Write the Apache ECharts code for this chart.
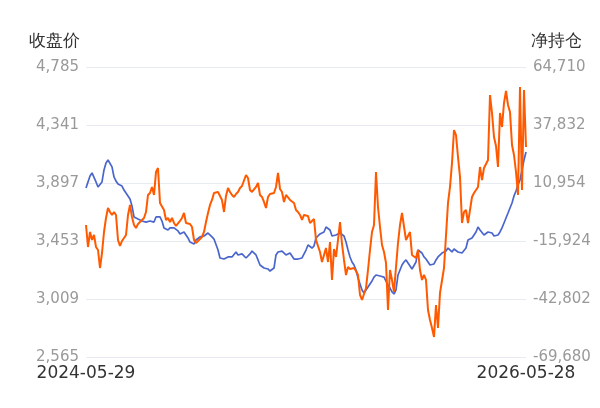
<!DOCTYPE html>
<html>
<head>
<meta charset="utf-8">
<script src="https://cdn.jsdelivr.net/npm/echarts@6/dist/echarts.min.js"></script>
<style>
  html, body { margin: 0; padding: 0; background: #fff; }
  #main { width: 600px; height: 408px; }
</style>
</head>
<body>
<div id="main"></div>
<script>
// first / last trading day shown on the x axis
const startDate = '2024-05-29';
const endDate = '2026-05-28';

// 收盘价 (left axis)
const closePrice = [
    3859, 3905, 3951, 3974, 3981, 3905, 3866, 3866, 3905, 3997,
    4050, 4073, 4081, 4020, 3943, 3912, 3889, 3882, 3874, 3843,
    3820, 3798, 3775, 3721, 3637, 3629, 3621, 3614, 3606, 3598,
    3598, 3598, 3606, 3606, 3598, 3637, 3644, 3637, 3606, 3553,
    3545, 3537, 3553, 3553, 3553, 3545, 3530, 3507, 3507, 3522,
    3499, 3476, 3445, 3438, 3430, 3461, 3476, 3484, 3484, 3491,
    3499, 3514, 3499, 3484, 3468, 3461, 3384, 3323, 3315, 3315,
    3323, 3331, 3331, 3331, 3338, 3369, 3346, 3338, 3354, 3346,
    3323, 3338, 3354, 3376, 3369, 3346, 3308, 3269, 3254, 3246,
    3246, 3239, 3223, 3216, 3246, 3346, 3369, 3384, 3376, 3361,
    3346, 3361, 3361, 3338, 3315, 3308, 3315, 3323, 3323, 3338,
    3384, 3422, 3407, 3399, 3415, 3476, 3491, 3507, 3514, 3522,
    3560, 3553, 3537, 3491, 3499, 3499, 3507, 3514, 3514, 3491,
    3445, 3384, 3331, 3292, 3269, 3231, 3170, 3124, 3078, 3055,
    3055, 3101, 3116, 3147, 3177, 3193, 3208, 3185, 3177, 3177,
    3162, 3116, 3093, 3063, 3047, 3078, 3193, 3231, 3269, 3292,
    3308, 3308, 3262, 3239, 3246, 3292, 3384, 3369, 3361, 3331,
    3315, 3292, 3269, 3254, 3277, 3308, 3331, 3346, 3361, 3369,
    3376, 3399, 3384, 3369, 3392, 3384, 3369, 3361, 3361, 3369,
    3399, 3461, 3468, 3476, 3491, 3522, 3560, 3537, 3522, 3499,
    3491, 3522, 3522, 3514, 3491, 3491, 3499, 3522, 3553, 3591,
    3629, 3667, 3706, 3744, 3798, 3836, 3882, 3920, 3997, 4073,
    4134
];

// 净持仓 (right axis)
const netPosition = [
    -8507, -18702, -11751, -15458, -13141, -18702, -20092, -28433, -21482, -11751,
    -5263, -629, -2483, -3873, -2483, -3873, -15458, -18238, -15921, -14531,
    -13141, -3873, 761, -4800, -8507, -9897, -8044, -7117, -6653, -5263,
    -2483, 5395, 6322, 9102, 5395, 16053, 17907, 1688, 1224, -1556,
    -6190, -5263, -7117, -5263, -7580, -8970, -8970, -6653, -5263, -2946,
    -7580, -8044, -8044, -9434, -15458, -16848, -15921, -15458, -14068, -11751,
    -7117, -2946, 761, 3078, 6322, 6785, 6785, 6322, 3078, -2483,
    4932, 8639, 6785, 5395, 4468, 5858, 6785, 8639, 9566, 10029,
    14663, 13273, 7712, 6785, 6785, 9102, 10956, 5395, 4468, 2151,
    -629, 4468, 5858, 4932, 6322, 9102, 15590, 8175, 6785, 2151,
    5395, 4932, 3078, 3078, 1688, -1556, -2483, -3873, -6190, -3873,
    -4336, -4336, -7580, -7580, -5727, -15458, -18238, -21019, -25653, -25653,
    -19165, -25653, -16385, -33994, -19629, -23336, -15458, -7117, -17312, -24726,
    -31677, -27970, -28897, -29360, -28433, -29823, -31677, -40945, -43262, -40482,
    -37701, -29360, -20092, -11751, -8507, 16053, -166, -9434, -17775, -21019,
    -26116, -47896, -29360, -33994, -39555, -27970, -16848, -8507, -2946, -2483,
    -15458, -13604, -11751, -22409, -22409, -23799, -20092, -29360, -33994, -31677,
    -33994, -47896, -52530, -56237, -60408, -45579, -56237, -40018, -39555, -28433,
    -28433, 1688, 9102, 20224, 35516, 33199, 23004, 13736, -7580, -2483,
    -1556, -7580, -1556, 4468, 6322, 6322, 9102, 18370, 12346, 17907,
    18370, 21614, 51735, 43394, 32272, 28102, 18370, 43394, 36906, 48028,
    53589, 47101, 43857, 28565, 23931, 16053, 5395, 55442, 7712, 54052,
    27638
];

// axis ranges as printed on the chart
const leftAxis = { min: 2565, max: 4785, interval: 444 };
const rightAxis = { min: -69680, max: 64710, interval: 26878 };

function makeDates(start, end, n) {
    let t0 = new Date(start + 'T00:00:00Z').getTime();
    let t1 = new Date(end + 'T00:00:00Z').getTime();
    let out = [];
    for (let i = 0; i < n; i++) {
        let d = new Date(t0 + Math.round((t1 - t0) / 86400000 * i / (n - 1)) * 86400000);
        out.push(d.toISOString().slice(0, 10));
    }
    return out;
}

const dates = makeDates(startDate, endDate, closePrice.length);

function fmt(v) {
    return Math.round(v).toLocaleString('en-US');
}

let myChart = echarts.init(document.getElementById('main'));
let option;

option = {
    animation: false,
    textStyle: { fontFamily: 'DejaVu Sans' },
    grid: { left: 86, right: 74, top: 67, bottom: 51 },
    xAxis: {
        type: 'category',
        data: dates,
        boundaryGap: false,
        axisLine: { show: false },
        axisTick: { show: false },
        axisLabel: {
            interval: dates.length - 2,
            color: '#333',
            fontFamily: 'DejaVu Sans',
            fontSize: 17,
            margin: 8
        }
    },
    yAxis: [
        {
            type: 'value',
            name: '收盘价',
            nameGap: 17,
            nameTextStyle: { color: '#333', fontSize: 17, padding: [0, 64, 0, 0] },
            min: leftAxis.min,
            max: leftAxis.max,
            interval: leftAxis.interval,
            axisLabel: { color: '#999', fontFamily: 'DejaVu Sans', fontSize: 15, margin: 7, formatter: fmt },
            splitLine: { lineStyle: { color: '#e8eaf1' } }
        },
        {
            type: 'value',
            name: '净持仓',
            nameGap: 17,
            nameTextStyle: { color: '#333', fontSize: 17, padding: [0, 0, 0, 60] },
            min: rightAxis.min,
            max: rightAxis.max,
            interval: rightAxis.interval,
            axisLabel: { color: '#999', fontFamily: 'DejaVu Sans', fontSize: 15, margin: 7, formatter: fmt },
            splitLine: { show: false }
        }
    ],
    series: [
        {
            name: '收盘价',
            type: 'line',
            data: closePrice,
            yAxisIndex: 0,
            symbol: 'none',
            lineStyle: { color: '#4a66cc', width: 1.7 },
            itemStyle: { color: '#4a66cc' }
        },
        {
            name: '净持仓',
            type: 'line',
            data: netPosition,
            yAxisIndex: 1,
            symbol: 'none',
            lineStyle: { color: '#ff5a00', width: 2 },
            itemStyle: { color: '#ff5a00' }
        }
    ]
};

option && myChart.setOption(option);
</script>
</body>
</html>
